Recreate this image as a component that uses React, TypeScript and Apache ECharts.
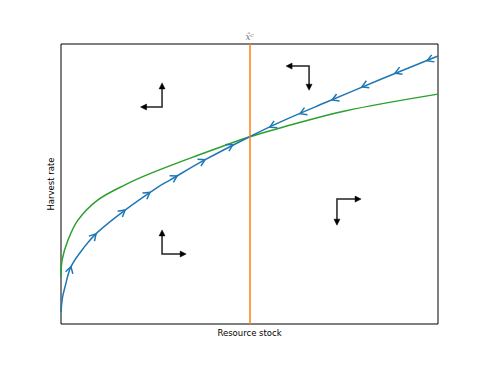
import React, { useEffect, useRef } from "react";
import * as echarts from "echarts";

// Blue path (harvest trajectory)
const blueX = [0, 0.004, 0.0106, 0.0265, 0.0637, 0.098, 0.17, 0.257, 0.289, 0.38, 0.499, 0.581, 0.7, 0.85, 1];
const blueY = [0.043, 0.095, 0.132, 0.205, 0.278, 0.329, 0.407, 0.489, 0.514, 0.585, 0.668, 0.721, 0.79, 0.875, 0.957];

// Green curve
const greenX = [0, 0.003, 0.0186, 0.045, 0.098, 0.17, 0.236, 0.35, 0.499, 0.581, 0.75, 1];
const greenY = [0.168, 0.229, 0.3, 0.371, 0.443, 0.497, 0.537, 0.596, 0.668, 0.7, 0.76, 0.821];

// Arrowheads on the blue path: x, y, direction (+1 forward, -1 backward)
const arrowX = [0.0265, 0.093, 0.17, 0.236, 0.308, 0.382, 0.456, 0.554, 0.634, 0.719, 0.798, 0.886, 0.971];
const arrowY = [0.205, 0.322, 0.407, 0.47, 0.529, 0.587, 0.64, 0.703, 0.751, 0.8, 0.847, 0.896, 0.94];
const arrowDir = [1, 1, 1, 1, 1, 1, 1, -1, -1, -1, -1, -1, -1];

// Phase arrows: corner x, corner y, horizontal extent, vertical extent
const phaseX = [0.268, 0.658, 0.732, 0.268];
const phaseY = [0.775, 0.921, 0.446, 0.25];
const phaseH = [-0.057, -0.061, 0.064, 0.064];
const phaseV = [0.086, -0.086, -0.093, 0.086];

const xCritical = 0.5;
const xLabel = "Resource stock";
const yLabel = "Harvest rate";
const critLabel = "x̂ᶜ";

export default function App() {
  const ref = useRef<HTMLDivElement>(null);
  useEffect(() => {
    if (!ref.current) return;
    const chart = echarts.init(ref.current, undefined, { renderer: "svg" });
    const blueData = blueX.map((x, i) => [x, blueY[i]]);
    const greenData = greenX.map((x, i) => [x, greenY[i]]);
    const arrowData = arrowX.map((x, i) => [x, arrowY[i], arrowDir[i]]);
    const phaseData = phaseX.map((x, i) => [x, phaseY[i], phaseH[i], phaseV[i]]);
    const font = "DejaVu Sans";

    chart.setOption({
      animation: false,
      grid: { left: 61, top: 44, width: 377, height: 280, show: true, borderColor: "#000", borderWidth: 1, backgroundColor: "transparent" },
      xAxis: {
        type: "value", min: 0, max: 1,
        axisLine: { show: false }, axisTick: { show: false }, axisLabel: { show: false }, splitLine: { show: false },
        name: xLabel, nameLocation: "middle", nameGap: 4,
        nameTextStyle: { fontFamily: font, fontSize: 8.5, color: "#000" },
      },
      yAxis: {
        type: "value", min: 0, max: 1,
        axisLine: { show: false }, axisTick: { show: false }, axisLabel: { show: false }, splitLine: { show: false },
        name: yLabel, nameLocation: "middle", nameGap: 6,
        nameTextStyle: { fontFamily: font, fontSize: 8.5, color: "#000" },
      },
      series: [
        {
          type: "line", data: greenData, smooth: 0.35, showSymbol: false,
          lineStyle: { color: "#2ca02c", width: 1.5 }, z: 2,
        },
        {
          type: "line", data: blueData, smooth: 0.35, showSymbol: false,
          lineStyle: { color: "#1f77b4", width: 1.5 }, z: 3,
          markLine: {
            silent: true, symbol: "none",
            lineStyle: { color: "#ff7f0e", width: 1.5, type: "solid" },
            label: { show: true, position: "end", formatter: critLabel, color: "#777", fontFamily: "DejaVu Serif", fontStyle: "italic", fontSize: 9, distance: 3 },
            data: [{ xAxis: xCritical }],
          },
        },
        {
          type: "custom", data: arrowData, encode: { x: 0, y: 1 }, z: 4, clip: false,
          renderItem: (params: any, api: any) => {
            const x = api.value(0), y = api.value(1), dir = api.value(2);
            let i = 0;
            while (i < blueX.length - 2 && blueX[i + 1] < x) i++;
            const p0 = api.coord([blueX[i], blueY[i]]);
            const p1 = api.coord([blueX[i + 1], blueY[i + 1]]);
            let dx = p1[0] - p0[0], dy = p1[1] - p0[1];
            const len = Math.hypot(dx, dy) || 1;
            dx = (dx / len) * dir; dy = (dy / len) * dir;
            const tip = api.coord([x, y]);
            const L = 6.5, W = 3.8;
            const nx = -dy, ny = dx;
            return {
              type: "polyline",
              shape: {
                points: [
                  [tip[0] - L * dx + W * nx, tip[1] - L * dy + W * ny],
                  tip,
                  [tip[0] - L * dx - W * nx, tip[1] - L * dy - W * ny],
                ],
              },
              style: { stroke: "#1f77b4", lineWidth: 1.5, fill: "none" },
            };
          },
        },
        {
          type: "custom", data: phaseData, encode: { x: 0, y: 1 }, z: 5, clip: false,
          renderItem: (params: any, api: any) => {
            const x = api.value(0), y = api.value(1), h = api.value(2), v = api.value(3);
            const c = api.coord([x, y]);
            const ht = api.coord([x + h, y]);
            const vt = api.coord([x, y + v]);
            const head = (tip: number[], ux: number, uy: number) => {
              const L = 6, W = 3;
              return {
                type: "polygon",
                shape: { points: [tip, [tip[0] - L * ux - W * uy, tip[1] - L * uy + W * ux], [tip[0] - L * ux + W * uy, tip[1] - L * uy - W * ux]] },
                style: { fill: "#000", stroke: "#000", lineWidth: 0.5 },
              };
            };
            const hs = Math.sign(ht[0] - c[0]);
            const vs = Math.sign(vt[1] - c[1]);
            return {
              type: "group",
              children: [
                { type: "polyline", shape: { points: [[ht[0] - hs * 3, ht[1]], c, [vt[0], vt[1] - vs * 3]] }, style: { stroke: "#222", lineWidth: 1.5, fill: "none" } },
                head(ht, hs, 0),
                head(vt, 0, vs),
              ],
            };
          },
        },
      ],
    });
    return () => chart.dispose();
  }, []);
  return <div ref={ref} style={{ position: "absolute", left: 0, top: 0, width: 487, height: 365 }} />;
}
